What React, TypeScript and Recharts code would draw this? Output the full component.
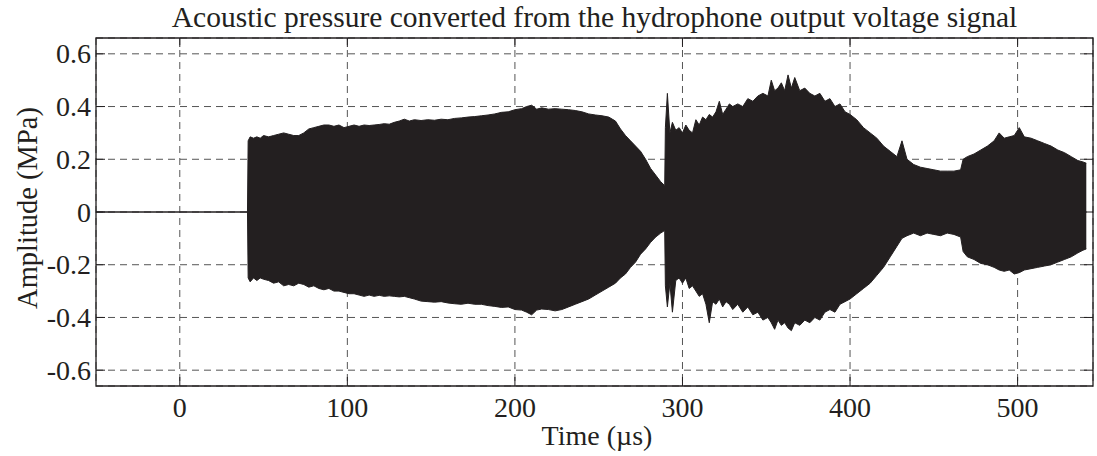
import { ComposedChart, Area, XAxis, YAxis, CartesianGrid, ReferenceArea } from 'recharts'

// envelope of the hydrophone trace (µs, MPa)
const timeUs = [
  -50, 40.4, 40.8, 42, 44, 46, 48, 50, 53, 56,
  59, 62, 65, 68, 71, 74, 77, 80, 83, 86,
  89, 92, 95, 98, 101, 104, 107, 110, 113, 116,
  119, 122, 125, 128, 131, 134, 137, 140, 144, 148,
  152, 156, 160, 164, 168, 172, 176, 180, 184, 188,
  192, 196, 200, 204, 207, 210, 213, 216, 220, 224,
  228, 232, 236, 240, 244, 248, 252, 256, 260, 263,
  266, 269, 272, 275, 278, 281, 284, 287, 289.4, 289.8,
  291, 292.5, 294, 296, 298, 300, 302, 304, 306, 308,
  310, 312, 314, 316, 318, 320, 322, 324, 326, 328,
  330, 333, 336, 339, 342, 345, 348, 351, 353, 355,
  357, 359, 361, 363, 365, 367, 370, 373, 376, 379,
  382, 385, 388, 391, 394, 397, 400, 404, 408, 412,
  416, 420, 424, 428, 431, 434, 438, 442, 446, 450,
  454, 458, 462, 466, 467.5, 470, 474, 478, 482, 486,
  489, 492, 495, 498, 501, 504, 508, 512, 516, 520,
  524, 528, 532, 536, 539, 541,
]

const upperMPa = [
  0, 0, 0.27, 0.285, 0.28, 0.285, 0.28, 0.29, 0.285, 0.29,
  0.295, 0.3, 0.295, 0.29, 0.29, 0.3, 0.315, 0.32, 0.325, 0.33,
  0.33, 0.325, 0.33, 0.32, 0.325, 0.33, 0.325, 0.33, 0.328, 0.33,
  0.332, 0.335, 0.333, 0.34, 0.345, 0.352, 0.345, 0.35, 0.347, 0.35,
  0.348, 0.352, 0.35, 0.355, 0.357, 0.36, 0.362, 0.365, 0.368, 0.372,
  0.378, 0.38, 0.388, 0.392, 0.4, 0.405, 0.39, 0.395, 0.39, 0.392,
  0.39, 0.388, 0.385, 0.38, 0.372, 0.368, 0.365, 0.36, 0.345, 0.315,
  0.29, 0.27, 0.25, 0.23, 0.2, 0.165, 0.14, 0.115, 0.1, 0.32,
  0.45, 0.3, 0.34, 0.31, 0.32, 0.3, 0.33, 0.31, 0.3, 0.35,
  0.33, 0.36, 0.35, 0.37, 0.36, 0.38, 0.42, 0.37, 0.39, 0.41,
  0.4, 0.41, 0.4, 0.43, 0.42, 0.44, 0.45, 0.44, 0.5, 0.46,
  0.47, 0.49, 0.46, 0.52, 0.47, 0.51, 0.46, 0.47, 0.45, 0.44,
  0.45, 0.42, 0.43, 0.4, 0.41, 0.38, 0.37, 0.35, 0.32, 0.3,
  0.28, 0.25, 0.23, 0.21, 0.27, 0.2, 0.18, 0.17, 0.165, 0.16,
  0.155, 0.155, 0.155, 0.16, 0.2, 0.21, 0.22, 0.235, 0.25, 0.27,
  0.3, 0.28, 0.285, 0.29, 0.32, 0.285, 0.28, 0.27, 0.26, 0.25,
  0.235, 0.225, 0.21, 0.195, 0.19, 0.185,
]

const lowerMPa = [
  0, 0, -0.25, -0.265, -0.25, -0.26, -0.25, -0.255, -0.26, -0.27,
  -0.265, -0.28, -0.275, -0.28, -0.27, -0.275, -0.285, -0.28, -0.29, -0.295,
  -0.29, -0.3, -0.3, -0.305, -0.31, -0.31, -0.315, -0.32, -0.315, -0.32,
  -0.316, -0.32, -0.318, -0.32, -0.322, -0.32, -0.325, -0.33, -0.338, -0.34,
  -0.342, -0.34, -0.345, -0.348, -0.35, -0.346, -0.35, -0.35, -0.355, -0.358,
  -0.362, -0.36, -0.37, -0.372, -0.38, -0.39, -0.372, -0.368, -0.37, -0.375,
  -0.37, -0.36, -0.35, -0.34, -0.33, -0.315, -0.3, -0.285, -0.27, -0.25,
  -0.235, -0.21, -0.19, -0.16, -0.14, -0.115, -0.095, -0.08, -0.07, -0.28,
  -0.36, -0.27, -0.38, -0.26, -0.25, -0.27, -0.25, -0.29, -0.28, -0.3,
  -0.32, -0.31, -0.35, -0.42, -0.34, -0.35, -0.33, -0.36, -0.34, -0.35,
  -0.37, -0.35, -0.38, -0.36, -0.39, -0.38, -0.41, -0.4, -0.42, -0.445,
  -0.41, -0.43, -0.42, -0.44, -0.45, -0.42, -0.43, -0.41, -0.42, -0.4,
  -0.41, -0.38, -0.37, -0.38, -0.35, -0.34, -0.33, -0.31, -0.29, -0.27,
  -0.24, -0.21, -0.17, -0.13, -0.1, -0.09, -0.08, -0.09, -0.08, -0.085,
  -0.09, -0.08, -0.085, -0.095, -0.15, -0.17, -0.18, -0.195, -0.2, -0.21,
  -0.22, -0.225, -0.22, -0.235, -0.23, -0.22, -0.215, -0.21, -0.205, -0.2,
  -0.19, -0.18, -0.17, -0.155, -0.145, -0.14,
]

const xTicks = [0, 100, 200, 300, 400, 500]
const yTicks = [-0.6, -0.4, -0.2, 0, 0.2, 0.4, 0.6]
const xDomain: [number, number] = [-50, 545]
const yDomain: [number, number] = [-0.66, 0.66]

const INK = '#231f20'
const FONT = '"Liberation Serif", "Times New Roman", serif'
const W = 1097
const H = 456
const PLOT = { left: 96, right: 1093, top: 38, bottom: 386 }
const TICK = 9

const rows = timeUs.map((t, i) => ({ t, band: [lowerMPa[i], upperMPa[i]] }))

const XTick = ({ x, payload }: any) => (
  <g>
    <line x1={x} x2={x} y1={PLOT.bottom} y2={PLOT.bottom - TICK} stroke={INK} />
    <line x1={x} x2={x} y1={PLOT.top} y2={PLOT.top + TICK} stroke={INK} />
    <text x={x} y={417} textAnchor="middle" fontSize={28} fontFamily={FONT} fill={INK}>
      {payload.value}
    </text>
  </g>
)

const YTick = ({ y, payload }: any) => (
  <g>
    <line x1={PLOT.left} x2={PLOT.left + TICK} y1={y} y2={y} stroke={INK} />
    <line x1={PLOT.right} x2={PLOT.right - TICK} y1={y} y2={y} stroke={INK} />
    <text x={91} y={y + 9.5} textAnchor="end" fontSize={28} fontFamily={FONT} fill={INK}>
      {payload.value === 0 ? '0' : payload.value.toFixed(1)}
    </text>
  </g>
)

export default function App() {
  return (
    <div style={{ position: 'absolute', left: 0, top: 0, width: W, height: H, background: '#fff' }}>
      <ComposedChart width={W} height={H} data={rows}
        margin={{ top: PLOT.top, right: W - PLOT.right, left: 0, bottom: 0 }}>
        <CartesianGrid stroke="#555" strokeDasharray="7 5" />
        <XAxis type="number" dataKey="t" domain={xDomain} ticks={xTicks} allowDataOverflow
          height={H - PLOT.bottom} axisLine={false} tickLine={false} tick={<XTick />}
          label={{
            content: () => (
              <text x={597} y={445} textAnchor="middle" fontSize={28} fontFamily={FONT} fill={INK}>
                Time (µs)
              </text>
            ),
          }} />
        <YAxis type="number" domain={yDomain} ticks={yTicks} allowDataOverflow
          width={PLOT.left} axisLine={false} tickLine={false} tick={<YTick />}
          label={{
            content: () => (
              <text x={27} y={208} transform="rotate(-90 27 208)" textAnchor="middle"
                dominantBaseline="central" fontSize={28.5} fontFamily={FONT} fill={INK}>
                Amplitude (MPa)
              </text>
            ),
          }} />
        <Area type="linear" dataKey="band" stroke={INK} strokeWidth={1} fill={INK} fillOpacity={1}
          dot={false} activeDot={false} isAnimationActive={false} />
        <ReferenceArea x1={xDomain[0]} x2={xDomain[1]} y1={yDomain[0]} y2={yDomain[1]}
          fill="none" fillOpacity={0} stroke={INK} strokeWidth={1.3} ifOverflow="visible" />
      </ComposedChart>
      <div style={{
        position: 'absolute', left: PLOT.left, width: PLOT.right - PLOT.left, top: 2,
        textAlign: 'center', fontFamily: FONT, fontSize: 29.5, lineHeight: '30px', color: INK,
        whiteSpace: 'nowrap',
      }}>
        Acoustic pressure converted from the hydrophone output voltage signal
      </div>
    </div>
  )
}
